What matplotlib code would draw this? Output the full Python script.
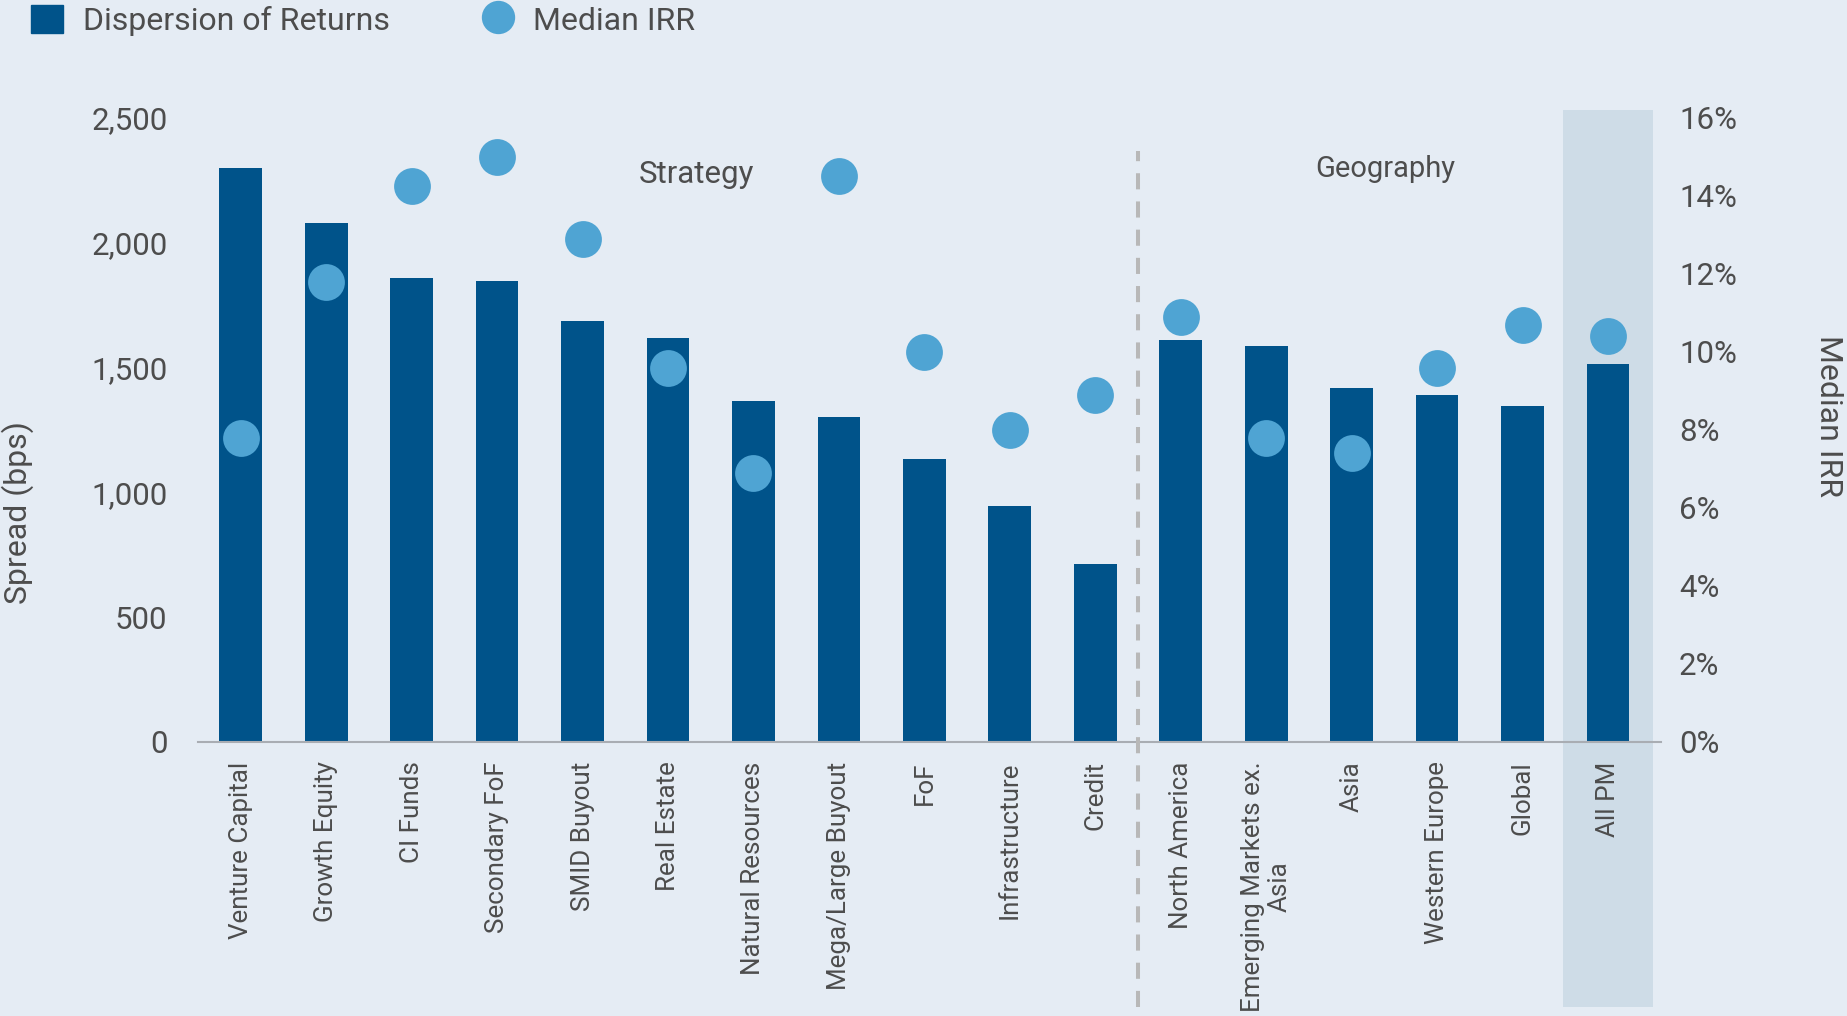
import matplotlib.pyplot as plt
from matplotlib.patches import Patch, Rectangle
from matplotlib.lines import Line2D
import matplotlib.transforms as mtransforms

# data
categories = ["Venture Capital", "Growth Equity", "CI Funds", "Secondary FoF", "SMID Buyout",
              "Real Estate", "Natural Resources", "Mega/Large Buyout", "FoF", "Infrastructure",
              "Credit", "North America", "Emerging Markets ex.\nAsia", "Asia", "Western Europe",
              "Global", "All PM"]
spread = [2300, 2080, 1860, 1845, 1685, 1620, 1365, 1300, 1135, 945, 715,
          1610, 1585, 1420, 1390, 1345, 1515]
median_irr = [7.8, 11.8, 14.25, 15.0, 12.9, 9.6, 6.9, 14.5, 10.0, 8.0, 8.9,
              10.9, 7.8, 7.4, 9.6, 10.7, 10.4]
left_ticks = [0, 500, 1000, 1500, 2000, 2500]
right_ticks = [0, 2, 4, 6, 8, 10, 12, 14, 16]

bar_color = "#00538A"
dot_color = "#4FA4D3"
bg = "#E5ECF4"
band = "#CEDCE7"
txt = "#4D4D4D"

plt.rcParams['font.family'] = ['Roboto', 'DejaVu Sans']

fig = plt.figure(figsize=(18.47, 10.16), dpi=100, facecolor=bg)
ax = fig.add_axes([0.1072, 0.2697, 0.7921, 0.6142])
ax.set_facecolor(bg)
x = list(range(len(categories)))

# highlighted "All PM" column, runs past the axes
trans = mtransforms.blended_transform_factory(ax.transData, ax.transAxes)
ax.add_patch(Rectangle((15.47, -0.425), 1.06, 1.438, transform=trans, color=band,
                       zorder=0.5, clip_on=False, lw=0))

ax.bar(x, spread, width=0.5, color=bar_color, zorder=2)
ax.set_xlim(-0.5, 16.62)
ax.set_ylim(0, 2500)
ax.set_yticks(left_ticks)
ax.set_yticklabels([f"{v:,}" for v in left_ticks])
ax.set_xticks(x)
ax.set_xticklabels(categories, rotation=90, fontsize=18.7, color=txt, multialignment='center',
                   linespacing=1.15)
ax.tick_params(axis='x', length=0, pad=14)
ax.tick_params(axis='y', length=0, pad=22, labelsize=22.5, labelcolor=txt)
for s in ['top', 'right', 'left']:
    ax.spines[s].set_visible(False)
ax.spines['bottom'].set_color("#A9ADB3")
ax.spines['bottom'].set_linewidth(1.5)
ax.spines['bottom'].set_zorder(3)

# separator between strategy and geography
ax.plot([10.5, 10.5], [-1060, 2368], color="#B8B8B8", lw=2.9, ls=(0, (4.0, 3.0)),
        clip_on=False, zorder=4)
ax.text(5.33, 2275, "Strategy", ha='center', va='center', fontsize=22.5, color=txt)
ax.text(13.39, 2295, "Geography", ha='center', va='center', fontsize=21, color=txt)

ax2 = ax.twinx()
ax2.plot(x, median_irr, 'o', color=dot_color, markersize=26.5, mew=0, zorder=5)
ax2.set_ylim(0, 16)
ax2.set_yticks(right_ticks)
ax2.set_yticklabels([f"{v}%" for v in right_ticks])
ax2.tick_params(axis='y', length=0, pad=13, labelsize=22.5, labelcolor=txt)
for s in ax2.spines.values():
    s.set_visible(False)

fig.text(0.0096, 0.496, "Spread (bps)", rotation=90, ha='center', va='center',
         fontsize=23, color=txt)
fig.text(0.99, 0.590, "Median IRR", rotation=270, ha='center', va='center',
         fontsize=23, color=txt)

handles = [Patch(color=bar_color),
           Line2D([], [], ls='none', marker='o', markersize=24, color=dot_color, mew=0)]
fig.legend(handles, ["Dispersion of Returns", "Median IRR"], loc='center left',
           bbox_to_anchor=(0.017, 0.980), ncol=2, frameon=False, fontsize=23,
           handlelength=1.0, handleheight=1.0, handletextpad=0.6, columnspacing=2.9,
           borderpad=0, borderaxespad=0, labelcolor=txt)

fig.savefig("out.png", dpi=100, facecolor=bg)
